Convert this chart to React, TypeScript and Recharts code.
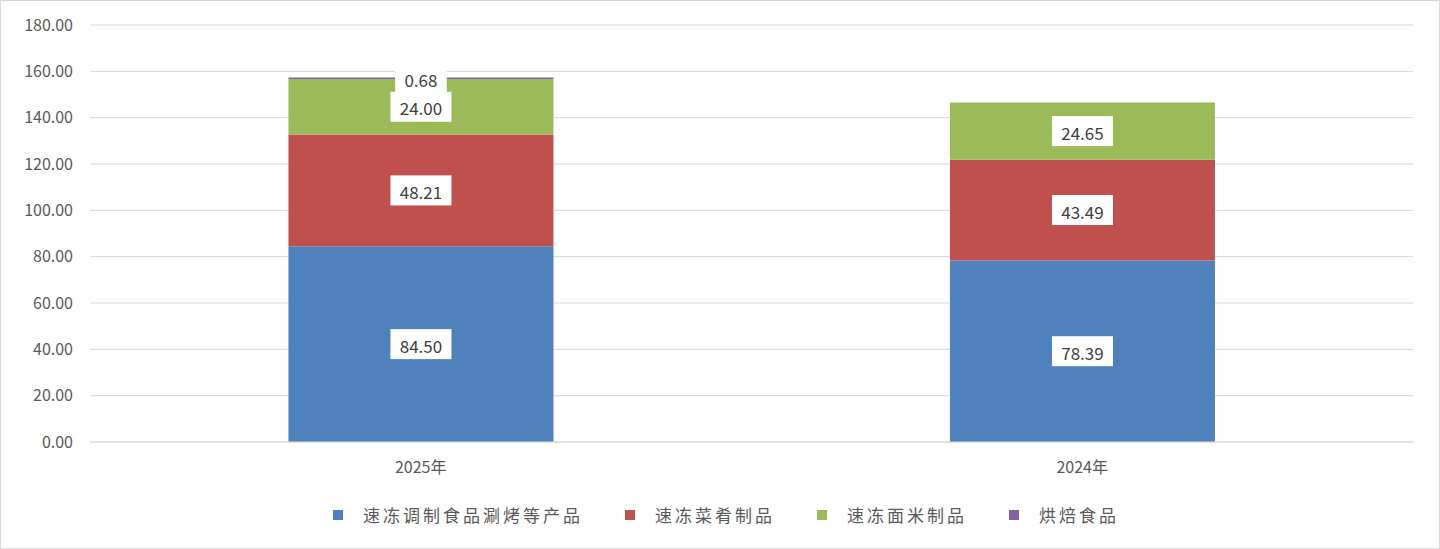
import React from "react";
import { Bar, BarChart, CartesianGrid, LabelList, Legend, XAxis, YAxis } from "recharts";

const years = ["2025年", "2024年"];
const tiaozhi = [84.5, 78.39];
const caiyao = [48.21, 43.49];
const mianmi = [24.0, 24.65];
const hongbei = [0.68, 0];
const yTicks = [0, 20, 40, 60, 80, 100, 120, 140, 160, 180];

const series = [
  { key: "tiaozhi", name: "速冻调制食品涮烤等产品", color: "#4f81bd" },
  { key: "caiyao", name: "速冻菜肴制品", color: "#c0504d" },
  { key: "mianmi", name: "速冻面米制品", color: "#9bbb59" },
  { key: "hongbei", name: "烘焙食品", color: "#8064a2" },
];

const data = years.map((year, i) => ({
  year,
  tiaozhi: tiaozhi[i],
  caiyao: caiyao[i],
  mianmi: mianmi[i],
  hongbei: hongbei[i],
}));

const FONT = "'Noto Sans CJK SC', 'Noto Sans', sans-serif";

function BoxLabel(props: any) {
  const { x, y, width, height, value } = props;
  if (!value) return null;
  const text = Number(value).toFixed(2);
  const cx = x + width / 2;
  const cy = y + height / 2;
  const w = text.length * 9.4 + 14;
  return (
    <g>
      <rect x={cx - w / 2} y={cy - 15} width={w} height={30} fill="#fff" />
      <text
        x={cx}
        y={cy + 1}
        textAnchor="middle"
        dominantBaseline="central"
        fontSize={17}
        fontFamily={FONT}
        fill="#404040"
      >
        {text}
      </text>
    </g>
  );
}

function LegendBox() {
  return (
    <div
      style={{
        display: "flex",
        justifyContent: "center",
        gap: 42,
        paddingLeft: 38,
        fontFamily: FONT,
        fontSize: 17,
        letterSpacing: 3,
        color: "#595959",
        lineHeight: "24px",
      }}
    >
      {series.map((s) => (
        <div key={s.key} style={{ display: "flex", alignItems: "center" }}>
          <span
            style={{ width: 10, height: 10, background: s.color, display: "inline-block", marginRight: 20 }}
          />
          {s.name}
        </div>
      ))}
    </div>
  );
}

export default function App() {
  return (
    <div
      style={{
        position: "absolute",
        left: 0,
        top: 0,
        width: 1440,
        height: 549,
        boxSizing: "border-box",
        border: "1px solid #d9d9d9",
        background: "#fff",
      }}
    >
      <BarChart
        width={1438}
        height={547}
        data={data}
        barCategoryGap="30%"
        margin={{ top: 24, right: 26, left: 0, bottom: 0 }}
      >
        <CartesianGrid vertical={false} stroke="#d9d9d9" />
        <XAxis
          dataKey="year"
          axisLine={{ stroke: "#d9d9d9" }}
          tickLine={false}
          tick={{ fontSize: 16, fill: "#595959", fontFamily: FONT }}
          tickMargin={14}
          height={40}
        />
        <YAxis
          width={89}
          domain={[0, 180]}
          ticks={yTicks}
          axisLine={false}
          tickLine={false}
          tickMargin={11}
          tickFormatter={(v: number) => v.toFixed(2)}
          tick={{ fontSize: 16, fill: "#595959", fontFamily: FONT }}
        />
        <Legend
          verticalAlign="bottom"
          content={() => <LegendBox />}
          wrapperStyle={{ height: 45, paddingTop: 21 }}
        />
        {series.map((s) => (
          <Bar key={s.key} dataKey={s.key} name={s.name} stackId="a" fill={s.color} isAnimationActive={false}>
            <LabelList dataKey={s.key} content={BoxLabel} />
          </Bar>
        ))}
      </BarChart>
    </div>
  );
}
